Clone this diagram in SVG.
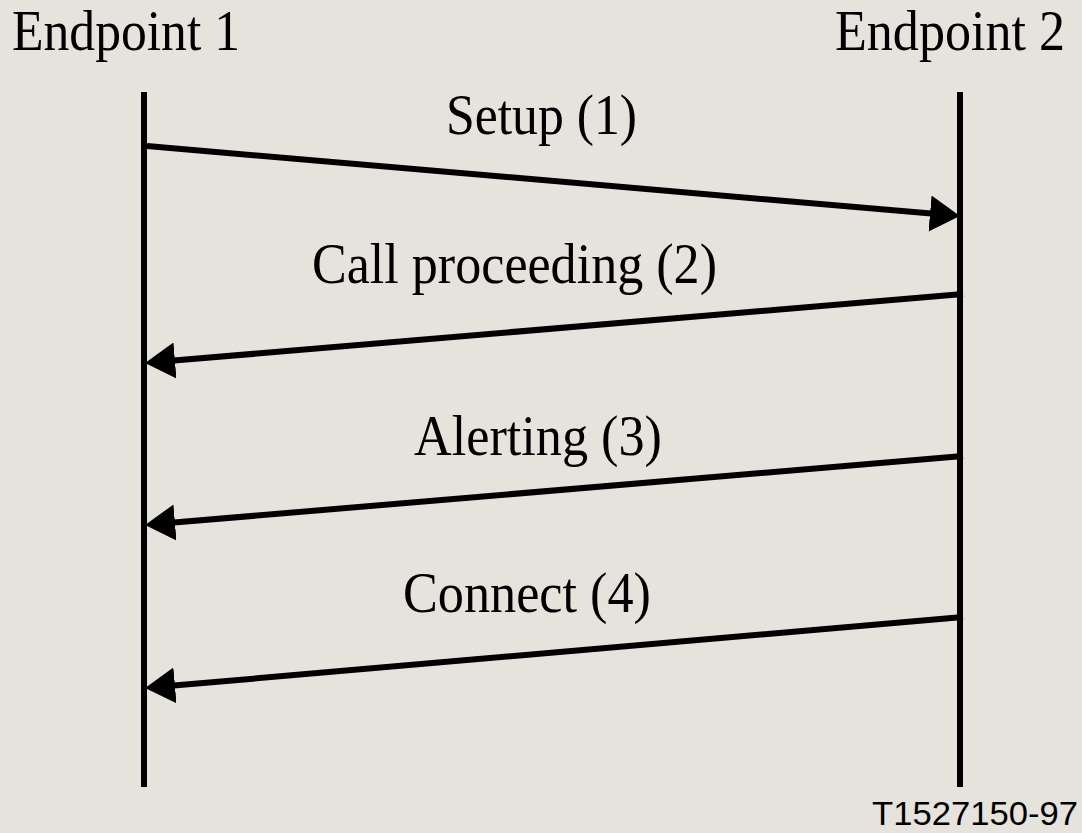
<svg xmlns="http://www.w3.org/2000/svg" width="1082" height="833" viewBox="0 0 1082 833">
  <style>
    .bg { fill: #e5e3dc; }
    .life { stroke: #000; stroke-width: 6; fill: none; }
    .msg { stroke: #000; stroke-width: 6; fill: none; marker-end: url(#arrow); }
    .lbl { font-family: "Liberation Serif", "Times New Roman", serif; font-size: 56px; fill: #000; }
    .tag { font-family: "Liberation Sans", Arial, sans-serif; font-size: 33px; fill: #000; }
  </style>
  <defs>
    <marker id="arrow" markerUnits="userSpaceOnUse" markerWidth="32" markerHeight="40" viewBox="0 -20 32 40" refX="10" refY="0" orient="auto">
      <path d="M0,-18 L30,0 L0,18 Z" fill="#000"/>
    </marker>
  </defs>
  <rect class="bg" x="0" y="0" width="1082" height="833"/>

  <g id="endpoint1">
    <text class="lbl" x="12" y="50" textLength="228" lengthAdjust="spacingAndGlyphs">Endpoint 1</text>
    <line class="life" x1="144" y1="92" x2="144" y2="787"/>
  </g>
  <g id="endpoint2">
    <text class="lbl" x="835" y="50" textLength="230" lengthAdjust="spacingAndGlyphs">Endpoint 2</text>
    <line class="life" x1="960" y1="92" x2="960" y2="787"/>
  </g>

  <g id="connectors">
    <line class="msg" x1="147" y1="146" x2="940" y2="214.3"/>
    <line class="msg" x1="963" y1="294" x2="165" y2="361.3"/>
    <line class="msg" x1="963" y1="456" x2="165" y2="523.3"/>
    <line class="msg" x1="963" y1="617" x2="165" y2="686.3"/>
  </g>

  <g id="labels">
    <text class="lbl" x="446" y="134" textLength="191" lengthAdjust="spacingAndGlyphs">Setup (1)</text>
    <text class="lbl" x="312" y="283" textLength="405" lengthAdjust="spacingAndGlyphs">Call proceeding (2)</text>
    <text class="lbl" x="414" y="455" textLength="248" lengthAdjust="spacingAndGlyphs">Alerting (3)</text>
    <text class="lbl" x="403" y="612" textLength="248" lengthAdjust="spacingAndGlyphs">Connect (4)</text>
  </g>

  <g id="figure-id">
    <text class="tag" x="872" y="825" textLength="206" lengthAdjust="spacingAndGlyphs">T1527150-97</text>
  </g>
</svg>
